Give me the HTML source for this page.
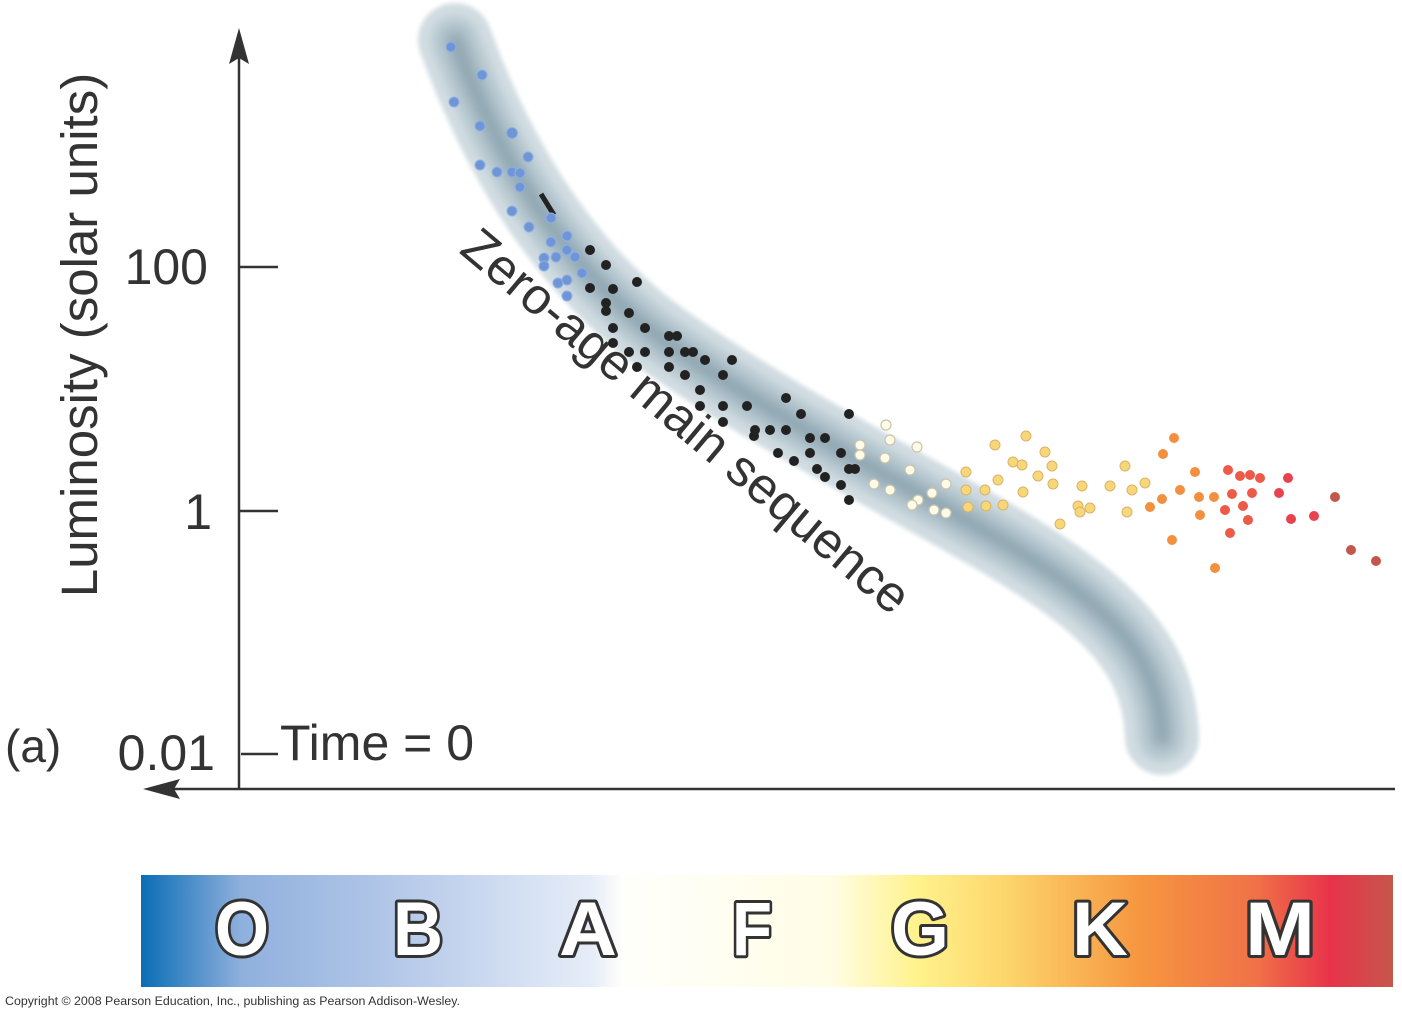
<!DOCTYPE html>
<html><head><meta charset="utf-8"><style>
html,body{margin:0;padding:0;background:#fff;}
svg{display:block;}
</style></head><body>
<svg width="1402" height="1018" viewBox="0 0 1402 1018" xmlns="http://www.w3.org/2000/svg" font-family="Liberation Sans, sans-serif">
<defs>
<filter id="b2" x="-20%" y="-20%" width="140%" height="140%"><feGaussianBlur stdDeviation="2"/></filter>
<filter id="b5" x="-20%" y="-20%" width="140%" height="140%"><feGaussianBlur stdDeviation="6"/></filter>
<linearGradient id="spec" x1="0" x2="1" y1="0" y2="0">
<stop offset="0" stop-color="#0a6db5"/>
<stop offset="0.08" stop-color="#8fb0dd"/>
<stop offset="0.2" stop-color="#b3c7e8"/>
<stop offset="0.36" stop-color="#e6edf8"/>
<stop offset="0.385" stop-color="#fffffb"/>
<stop offset="0.55" stop-color="#fffde6"/>
<stop offset="0.62" stop-color="#fff28c"/>
<stop offset="0.69" stop-color="#fdd66c"/>
<stop offset="0.8" stop-color="#f6953f"/>
<stop offset="0.89" stop-color="#f07248"/>
<stop offset="0.95" stop-color="#e8334a"/>
<stop offset="1" stop-color="#c4574b"/>
</linearGradient>
</defs>
<!-- band -->
<g fill="none" stroke-linecap="round">
<path d="M455,40 C495,150 555,255 650,330 C760,410 880,470 1000,540 C1100,600 1160,650 1162,738" stroke="#d3dee3" stroke-width="74" filter="url(#b2)"/>
<path d="M455,40 C495,150 555,255 650,330 C760,410 880,470 1000,540 C1100,600 1160,650 1162,738" stroke="#b3c5cd" stroke-width="46" filter="url(#b5)"/>
<path d="M455,40 C495,150 555,255 650,330 C760,410 880,470 1000,540 C1100,600 1160,650 1162,738" stroke="#8ea5b0" stroke-width="16" filter="url(#b5)"/>
</g>
<!-- axes -->
<g stroke="#333" stroke-width="2.5" fill="none">
<line x1="239" y1="50" x2="239" y2="789"/>
<line x1="165" y1="789" x2="1395" y2="789"/>
<line x1="239" y1="267" x2="278" y2="267"/>
<line x1="239" y1="511" x2="278" y2="511"/>
<line x1="241" y1="754" x2="278" y2="754"/>
</g>
<polygon points="239,28 229,64 239,58 249,64" fill="#333"/>
<polygon points="143,789 180,779 174,789 180,799" fill="#333"/>
<g fill="#333" font-size="50">
<text x="208" y="284" text-anchor="end">100</text>
<text x="212" y="529" text-anchor="end">1</text>
<text x="215" y="770" text-anchor="end">0.01</text>
<text x="280" y="760">Time = 0</text>
<text x="5" y="762" font-size="46">(a)</text>
<text transform="translate(97,335) rotate(-90)" text-anchor="middle" font-size="51">Luminosity (solar units)</text>
<text transform="translate(458,252) rotate(40)" font-size="51">Zero-age main sequence</text>
</g>
<line x1="541" y1="194" x2="554" y2="215" stroke="#222" stroke-width="5"/>
<!-- blue dots -->
<g fill="#6f95d6" stroke="#8fb0e4" stroke-width="1">
<circle cx="451" cy="47" r="5"/><circle cx="454" cy="102" r="5"/><circle cx="482" cy="75" r="5"/><circle cx="480" cy="126" r="5"/><circle cx="480" cy="165" r="5"/><circle cx="497" cy="172" r="5"/><circle cx="512" cy="133" r="5.5"/><circle cx="528" cy="157" r="5"/><circle cx="512" cy="172" r="5"/><circle cx="520" cy="173" r="5"/><circle cx="520" cy="187" r="5"/><circle cx="512" cy="211" r="5"/><circle cx="529" cy="227" r="5"/><circle cx="551" cy="218" r="5"/><circle cx="551" cy="242" r="5"/><circle cx="567" cy="236" r="5"/><circle cx="544" cy="258" r="5"/><circle cx="544" cy="266" r="5"/><circle cx="556" cy="257" r="5"/><circle cx="567" cy="250" r="5"/><circle cx="575" cy="257" r="5"/><circle cx="582" cy="273" r="5"/><circle cx="558" cy="283" r="5"/><circle cx="567" cy="296" r="5"/><circle cx="567" cy="280" r="5"/>
</g>
<!-- black dots -->
<g fill="#222">
<circle cx="590" cy="250" r="5"/><circle cx="606" cy="265" r="5"/><circle cx="637" cy="282" r="5"/><circle cx="590" cy="288" r="5"/><circle cx="613" cy="289" r="5"/><circle cx="606" cy="303" r="5"/><circle cx="606" cy="311" r="5"/><circle cx="629" cy="313" r="5"/><circle cx="613" cy="328" r="5"/><circle cx="645" cy="328" r="5"/><circle cx="669" cy="336" r="5"/><circle cx="677" cy="336" r="5"/><circle cx="613" cy="343" r="5"/><circle cx="629" cy="352" r="5"/><circle cx="645" cy="352" r="5"/><circle cx="669" cy="352" r="5"/><circle cx="685" cy="352" r="5"/><circle cx="693" cy="352" r="5"/><circle cx="705" cy="360" r="5"/><circle cx="732" cy="360" r="5"/><circle cx="637" cy="367" r="5"/><circle cx="669" cy="367" r="5"/><circle cx="685" cy="375" r="5"/><circle cx="723" cy="375" r="5"/><circle cx="700" cy="390" r="5"/><circle cx="700" cy="406" r="5"/><circle cx="723" cy="406" r="5"/><circle cx="747" cy="406" r="5"/><circle cx="786" cy="398" r="5"/><circle cx="801" cy="414" r="5"/><circle cx="849" cy="414" r="5"/><circle cx="723" cy="422" r="5"/><circle cx="755" cy="430" r="5"/><circle cx="770" cy="430" r="5"/><circle cx="786" cy="430" r="5"/><circle cx="810" cy="438" r="5"/><circle cx="825" cy="438" r="5"/><circle cx="754" cy="436" r="5"/><circle cx="778" cy="453" r="5"/><circle cx="794" cy="461" r="5"/><circle cx="810" cy="453" r="5"/><circle cx="841" cy="453" r="5"/><circle cx="817" cy="469" r="5"/><circle cx="825" cy="477" r="5"/><circle cx="849" cy="469" r="5"/><circle cx="841" cy="485" r="5"/><circle cx="849" cy="500" r="5"/><circle cx="855" cy="469" r="5"/>
</g>
<!-- cream dots -->
<g fill="#fffbe6" stroke="#c8c4b0" stroke-width="1.2">
<circle cx="860" cy="445" r="5"/><circle cx="860" cy="455" r="5"/><circle cx="886" cy="425" r="5"/><circle cx="890" cy="440" r="5"/><circle cx="885" cy="458" r="5"/><circle cx="917" cy="447" r="5"/><circle cx="910" cy="470" r="5"/><circle cx="874" cy="484" r="5"/><circle cx="890" cy="490" r="5"/><circle cx="918" cy="500" r="5"/><circle cx="912" cy="505" r="5"/><circle cx="932" cy="493" r="5"/><circle cx="946" cy="484" r="5"/><circle cx="934" cy="510" r="5"/><circle cx="946" cy="513" r="5"/>
</g>
<!-- yellow dots -->
<g fill="#f8d77a" stroke="#d8b468" stroke-width="1">
<circle cx="966" cy="472" r="5"/><circle cx="966" cy="490" r="5"/><circle cx="968" cy="507" r="5"/><circle cx="985" cy="490" r="5"/><circle cx="995" cy="445" r="5"/><circle cx="998" cy="480" r="5"/><circle cx="986" cy="506" r="5"/><circle cx="1003" cy="505" r="5"/><circle cx="1013" cy="462" r="5"/><circle cx="1022" cy="465" r="5"/><circle cx="1026" cy="436" r="5"/><circle cx="1023" cy="492" r="5"/><circle cx="1038" cy="476" r="5"/><circle cx="1045" cy="452" r="5"/><circle cx="1052" cy="466" r="5"/><circle cx="1053" cy="484" r="5"/><circle cx="1060" cy="524" r="5"/><circle cx="1078" cy="506" r="5"/><circle cx="1082" cy="486" r="5"/><circle cx="1080" cy="512" r="5"/><circle cx="1090" cy="508" r="5"/><circle cx="1110" cy="486" r="5"/><circle cx="1125" cy="466" r="5"/><circle cx="1132" cy="490" r="5"/><circle cx="1127" cy="512" r="5"/><circle cx="1145" cy="483" r="5"/>
</g>
<!-- orange dots -->
<g fill="#f39040">
<circle cx="1163" cy="454" r="5"/><circle cx="1174" cy="438" r="5"/><circle cx="1162" cy="499" r="5"/><circle cx="1180" cy="490" r="5"/><circle cx="1150" cy="507" r="5"/><circle cx="1172" cy="540" r="5"/><circle cx="1195" cy="472" r="5"/><circle cx="1199" cy="497" r="5"/><circle cx="1200" cy="515" r="5"/><circle cx="1214" cy="497" r="5"/><circle cx="1215" cy="568" r="5"/>
</g>
<g fill="#ec5a48">
<circle cx="1225" cy="510" r="5"/><circle cx="1228" cy="470" r="5"/><circle cx="1232" cy="494" r="5"/><circle cx="1230" cy="533" r="5"/><circle cx="1240" cy="476" r="5"/><circle cx="1243" cy="506" r="5"/><circle cx="1248" cy="520" r="5"/><circle cx="1250" cy="475" r="5"/><circle cx="1252" cy="493" r="5"/><circle cx="1260" cy="478" r="5"/>
</g>
<g fill="#e8414f">
<circle cx="1279" cy="493" r="5"/><circle cx="1288" cy="478" r="5"/><circle cx="1291" cy="519" r="5"/><circle cx="1314" cy="516" r="5"/>
</g>
<g fill="#c4574b">
<circle cx="1335" cy="497" r="5"/><circle cx="1351" cy="550" r="5"/><circle cx="1376" cy="561" r="5"/>
</g>
<!-- spectral band -->
<rect x="141" y="875" width="1252" height="112" fill="url(#spec)"/>
<g font-size="76" font-weight="bold" fill="#fff" stroke="#333" stroke-width="6" paint-order="stroke" text-anchor="middle" stroke-linejoin="round">
<text x="242" y="955" textLength="54" lengthAdjust="spacingAndGlyphs">O</text>
<text x="418" y="955" textLength="50" lengthAdjust="spacingAndGlyphs">B</text>
<text x="588" y="955" textLength="58" lengthAdjust="spacingAndGlyphs">A</text>
<text x="752" y="955" textLength="40" lengthAdjust="spacingAndGlyphs">F</text>
<text x="920" y="955" textLength="58" lengthAdjust="spacingAndGlyphs">G</text>
<text x="1100" y="955" textLength="56" lengthAdjust="spacingAndGlyphs">K</text>
<text x="1280" y="955" textLength="70" lengthAdjust="spacingAndGlyphs">M</text>
</g>
<text x="5" y="1005" font-size="12.4" fill="#333">Copyright © 2008 Pearson Education, Inc., publishing as Pearson Addison-Wesley.</text>
</svg>
</body></html>
